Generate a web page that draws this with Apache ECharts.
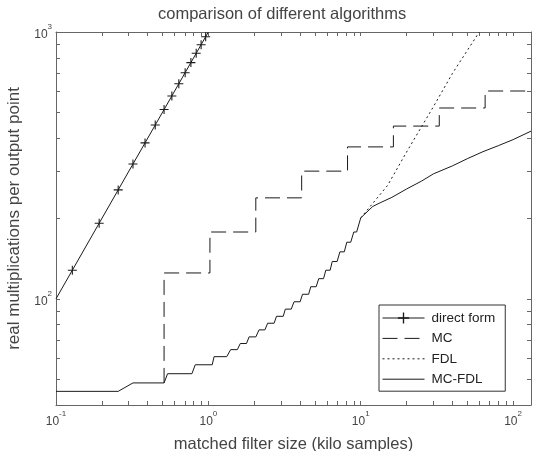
<!DOCTYPE html>
<html>
<head>
<meta charset="utf-8">
<script src="https://cdn.jsdelivr.net/npm/echarts@6/dist/echarts.min.js"></script>
<style>
  html, body { margin: 0; padding: 0; background: #fff; }
  #chart { width: 539px; height: 451px; }
</style>
</head>
<body>
<div id="chart"></div>
<script>
// values (x in kilo samples, y in real mults / output point)
const directX = [0.1, 0.128, 0.192, 0.256, 0.32, 0.384, 0.448, 0.512, 0.576, 0.64, 0.704, 0.768, 0.832, 0.896, 0.96, 1.0]
const directY = [100, 128, 192, 256, 320, 384, 448, 512, 576, 640, 704, 768, 832, 896, 960, 1000]

const mcX = [0.512, 0.512, 1.024, 1.024, 2.048, 2.048, 4.096, 4.096, 8.192, 8.192, 16.384, 16.384, 32.768, 32.768, 65.536, 65.536, 131.072]
const mcY = [48.4, 125, 125, 178, 178, 239, 239, 301, 301, 371, 371, 444, 444, 519, 519, 601, 601]

const fdlX = [10, 15, 20, 30, 40, 60]
const fdlY = [201, 266, 355, 525, 700, 1000]

const mcfdlX = [0.1, 0.256, 0.32, 0.512, 0.54, 0.78, 0.82, 1.06, 1.09, 1.32, 1.40, 1.55, 1.62, 1.78, 1.85, 2.05, 2.15, 2.35, 2.45, 2.7, 2.8, 3.1, 3.2, 3.5, 3.65, 4.0, 4.15, 4.55, 4.7, 5.1, 5.3, 5.7, 5.9, 6.3, 6.5, 7.0, 7.3, 7.8, 8.1, 8.6, 9.0, 9.4, 10, 12, 13.4, 16, 20, 25, 30, 40, 50, 63.4, 80, 100, 131.072]
const mcfdlY = [45, 45, 48.4, 48.4, 52.4, 52.4, 56.6, 56.6, 60.7, 60.7, 64.5, 64.5, 68, 68, 72, 72, 76.5, 76.5, 81, 81, 86, 86, 91.5, 91.5, 97.5, 97.5, 104, 104, 111, 111, 119, 119, 128, 128, 138, 138, 150, 150, 163, 163, 178, 178, 201, 222, 229, 240, 258, 276, 294, 315, 335, 356, 375, 395, 425]

// tick marks and labels
const xTicks = [0.2, 0.3, 0.4, 0.5, 0.6, 0.7, 0.8, 0.9, 1, 2, 3, 4, 5, 6, 7, 8, 9, 10, 20, 30, 40, 50, 60, 70, 80, 90, 100]
const xLabels = [0.1, 1, 10, 100]
const yTicks = [50, 60, 70, 80, 90, 100, 200, 300, 400, 500, 600, 700, 800, 900]
const yLabels = [100, 1000]

const FONT = 'Arial, "Liberation Sans", sans-serif'
const GREY = '#666'
const INK = '#1a1a1a'
const PLUS = 'path://M4.4,0h1.2v10h-1.2zM0,4.4h10v1.2h-10z'

const pairs = (xs, ys) => xs.map((x, i) => [x, ys[i]])

function makeAxis(kind, position, withLabels){
  const isX = kind === 'x'
  return {
    type: 'log',
    logBase: 10,
    position: position,
    min: isX ? 0.1 : 40,
    max: isX ? 131.072 : 1000,
    axisLine: { show: true, onZero: false, lineStyle: { color: GREY, width: 1 } },
    axisTick: { show: true, inside: true, length: 4, customValues: isX ? xTicks : yTicks, lineStyle: { color: GREY } },
    axisLabel: {
      show: withLabels,
      customValues: isX ? xLabels : yLabels,
      margin: isX ? 5 : 4,
      // 10 with a raised exponent, as in the original
      formatter: v => '{b|10}{e|' + Math.round(Math.log10(v)) + '}',
      rich: {
        b: { fontSize: 12, color: '#444', fontFamily: FONT, lineHeight: 18, verticalAlign: 'bottom' },
        e: { fontSize: 8, color: '#444', fontFamily: FONT, lineHeight: 18, verticalAlign: 'top' }
      }
    },
    splitLine: { show: false },
    minorTick: { show: false }
  }
}

const chart = echarts.init(document.getElementById('chart'))

const xBottom = makeAxis('x', 'bottom', true)
xBottom.name = 'matched filter size (kilo samples)'
xBottom.nameLocation = 'middle'
xBottom.nameGap = 31
xBottom.nameTextStyle = { fontSize: 16.5, color: '#444', fontFamily: FONT }

const yLeft = makeAxis('y', 'left', true)
yLeft.name = 'real multiplications per output point'
yLeft.nameLocation = 'middle'
yLeft.nameGap = 33
yLeft.nameTextStyle = { fontSize: 17, color: '#444', fontFamily: FONT }

const noMark = { opacity: 0 }

const option = {
  animation: false,
  backgroundColor: '#fff',
  title: {
    text: 'comparison of different algorithms',
    left: 158,
    top: 6,
    padding: 0,
    textStyle: { fontSize: 16.5, fontWeight: 'normal', color: '#444', fontFamily: FONT }
  },
  grid: { left: 56, right: 8, top: 32, bottom: 46, containLabel: false, outerBoundsMode: 'none' },
  xAxis: [xBottom, makeAxis('x', 'top', false)],
  yAxis: [yLeft, makeAxis('y', 'right', false)],
  legend: {
    orient: 'vertical',
    left: 379,
    top: 305,
    padding: [6, 10, 5, 3],
    itemWidth: 42,
    itemHeight: 14,
    itemGap: 6.4,
    backgroundColor: '#fff',
    borderColor: '#333',
    borderWidth: 1,
    borderRadius: 0,
    lineStyle: { width: 1 },
    textStyle: { fontSize: 13.5, color: '#222', fontFamily: FONT, padding: [0, 0, 0, 2] },
    data: [
      { name: 'direct form' },
      { name: 'MC', itemStyle: noMark },
      { name: 'FDL', itemStyle: noMark },
      { name: 'MC-FDL', itemStyle: noMark }
    ]
  },
  series: [
    {
      name: 'direct form',
      type: 'line',
      data: pairs(directX, directY).map((p, i) =>
        (i === 0 || i === directX.length - 1) ? { value: p, symbol: 'none' } : p),
      symbol: PLUS,
      symbolSize: 9,
      itemStyle: { color: INK },
      lineStyle: { color: INK, width: 1 },
      z: 4
    },
    {
      name: 'MC',
      type: 'line',
      data: pairs(mcX, mcY),
      symbol: 'none',
      itemStyle: { color: INK },
      lineStyle: { color: INK, width: 1, type: [15, 7] },
      z: 3
    },
    {
      name: 'FDL',
      type: 'line',
      data: pairs(fdlX, fdlY),
      symbol: 'none',
      itemStyle: { color: INK },
      lineStyle: { color: INK, width: 1, type: [2, 3] },
      z: 3
    },
    {
      name: 'MC-FDL',
      type: 'line',
      data: pairs(mcfdlX, mcfdlY),
      symbol: 'none',
      itemStyle: { color: INK },
      lineStyle: { color: INK, width: 1 },
      z: 3
    }
  ]
}

chart.setOption(option)
</script>
</body>
</html>
